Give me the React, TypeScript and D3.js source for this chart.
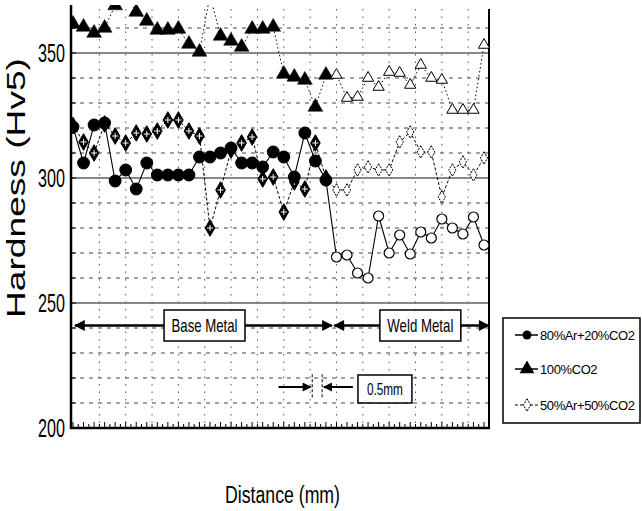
import React, { useEffect, useRef } from 'react';
import * as d3 from 'd3';

// measurement points, mm from start of traverse (0.5 mm pitch)
const distance = [
    0, 0.5, 1, 1.5, 2, 2.5, 3, 3.5, 4, 4.5, 5, 5.5, 6, 6.5, 7, 7.5, 8, 8.5, 9, 9.5,
    10, 10.5, 11, 11.5, 12, 12.5, 13, 13.5, 14, 14.5, 15, 15.5, 16, 16.5, 17, 17.5, 18, 18.5, 19, 19.5,
];
const ar80 = [
    320.4, 306, 321.2, 322, 298.8, 303.2, 295.6, 306, 301.2, 301.2, 301.2, 301.2, 308.4, 308.4, 310, 312,
    306, 306, 304.4, 310.4, 308.4, 300.4, 318, 306.8, 299.2,
    268.4, 269.2, 262, 260, 284.8, 270, 277.2, 269.6, 278.4, 276, 283.6, 280, 277.6, 284.4, 273.2,
];
const co2 = [
    361.6, 360.4, 358, 360, 369, 373, 366.4, 362.8, 359.2, 359.2, 359.6, 353.6, 350.4, 373, 356.8, 354.8,
    352.4, 359.6, 359.6, 360.4, 341.6, 340.4, 339.2, 328.4, 341.2,
    341.2, 332, 332.4, 340, 336.4, 342.4, 342, 337.2, 345.2, 340, 339.2, 327.2, 327.2, 327.2, 353.2,
];
const ar50 = [
    321, 314.4, 310, 321.6, 316.8, 314, 318, 317.6, 318.8, 323.2, 323.2, 318.8, 316.8, 280, 295.2, 311.2,
    314, 316.4, 299.6, 300.4, 286.4, 298.4, 295.6, 314, 300,
    295.2, 295.2, 303.2, 304.4, 303.2, 303.2, 314.4, 318.4, 310.4, 310.4, 292.4, 303.2, 306.4, 301.2, 308,
];
const yTicks = [200, 250, 300, 350];
const seriesNames = ['80%Ar+20%CO2', '100%CO2', '50%Ar+50%CO2'];
const weldStart = 12.5; // first point inside weld metal

const FONT = "'Liberation Sans Narrow', 'Arial Narrow', 'Liberation Sans', sans-serif";

const App: React.FC = () => {
    const ref = useRef<SVGSVGElement | null>(null);

    useEffect(() => {
        if (!ref.current) return;
        const width = 642;
        const height = 511;
        const left = 71, right = 489, top = 5, bottom = 428;

        d3.select(ref.current).selectAll('*').remove();
        const svg = d3.select(ref.current)
            .attr('width', width)
            .attr('height', height)
            .style('position', 'absolute')
            .style('left', '0px')
            .style('top', '0px')
            .style('background', '#fff');

        const x = d3.scaleLinear().domain([0, 19.5]).range([73, 484]);
        const y = d3.scaleLinear().domain([200, 350]).range([bottom, 53]);

        const defs = svg.append('defs');
        defs.append('clipPath').attr('id', 'plotclip')
            .append('rect').attr('x', left).attr('y', top)
            .attr('width', right - left).attr('height', bottom - top);
        defs.append('marker')
            .attr('id', 'arrow')
            .attr('viewBox', '0 0 10 10')
            .attr('refX', 9).attr('refY', 5)
            .attr('markerWidth', 5).attr('markerHeight', 4.5)
            .attr('markerUnits', 'strokeWidth')
            .attr('orient', 'auto-start-reverse')
            .append('path').attr('d', 'M0,0 L10,5 L0,10 Z').attr('fill', '#000');

        // horizontal grid
        const hGrid = d3.range(210, 370, 10);
        svg.append('g').selectAll('line')
            .data(hGrid)
            .enter().append('line')
            .attr('x1', left).attr('x2', right)
            .attr('y1', d => y(d)).attr('y2', d => y(d))
            .attr('stroke', d => (d % 50 === 0 ? '#111' : '#444'))
            .attr('stroke-width', 1)
            .attr('stroke-dasharray', d => (d % 50 === 0 ? null : '4,5'));

        // vertical dotted grid
        svg.append('g').selectAll('line')
            .data(d3.range(1.25, 19.6, 1.25))
            .enter().append('line')
            .attr('x1', d => x(d)).attr('x2', d => x(d))
            .attr('y1', top + 4).attr('y2', bottom)
            .attr('stroke', '#555')
            .attr('stroke-width', 1)
            .attr('stroke-dasharray', '1.5,6');

        // frame
        svg.append('line').attr('x1', left).attr('x2', left).attr('y1', top).attr('y2', bottom + 1)
            .attr('stroke', '#000').attr('stroke-width', 2.5);
        svg.append('line').attr('x1', left - 1).attr('x2', right + 1).attr('y1', bottom).attr('y2', bottom)
            .attr('stroke', '#000').attr('stroke-width', 2.5);
        svg.append('line').attr('x1', right).attr('x2', right).attr('y1', top + 4).attr('y2', bottom + 1)
            .attr('stroke', '#000').attr('stroke-width', 2);

        // bottom minor ticks (inward)
        svg.append('g').selectAll('line')
            .data(d3.range(0, 19.8, 0.25))
            .enter().append('line')
            .attr('x1', d => x(d)).attr('x2', d => x(d))
            .attr('y1', bottom).attr('y2', (d, i) => bottom - (i % 2 === 0 ? 6 : 4))
            .attr('stroke', '#000').attr('stroke-width', 1);

        // left ticks (inward)
        svg.append('g').selectAll('line')
            .data(d3.range(200, 370, 10))
            .enter().append('line')
            .attr('x1', left).attr('x2', left + 5)
            .attr('y1', d => y(d)).attr('y2', d => y(d))
            .attr('stroke', '#000').attr('stroke-width', 1);

        // y tick labels
        svg.append('g').selectAll('text')
            .data(yTicks)
            .enter().append('text')
            .attr('x', 38)
            .attr('y', d => y(d) + 9)
            .attr('textLength', 27)
            .attr('lengthAdjust', 'spacingAndGlyphs')
            .style('font-family', FONT)
            .style('font-size', '25px')
            .style('fill', '#000')
            .text(d => d);

        // axis titles
        svg.append('text')
            .attr('transform', 'translate(25,188) rotate(-90)')
            .attr('text-anchor', 'middle')
            .attr('textLength', 260)
            .attr('lengthAdjust', 'spacingAndGlyphs')
            .style('font-family', "'Liberation Sans', sans-serif")
            .style('font-size', '26px')
            .style('fill', '#000')
            .text('Hardness (Hv5)');

        svg.append('text')
            .attr('x', 225)
            .attr('y', 503)
            .attr('textLength', 115)
            .attr('lengthAdjust', 'spacingAndGlyphs')
            .style('font-family', FONT)
            .style('font-size', '23px')
            .style('fill', '#000')
            .text('Distance (mm)');

        const plot = svg.append('g').attr('clip-path', 'url(#plotclip)');

        const lineGen = (vals: number[]) =>
            d3.line<number>().x((d, i) => x(distance[i])).y(d => y(d))(vals);

        // lines
        plot.append('path').attr('d', lineGen(co2)).attr('fill', 'none')
            .attr('stroke', '#000').attr('stroke-width', 1).attr('stroke-dasharray', '1.5,2.5');
        plot.append('path').attr('d', lineGen(ar50)).attr('fill', 'none')
            .attr('stroke', '#000').attr('stroke-width', 1).attr('stroke-dasharray', '3,2');
        plot.append('path').attr('d', lineGen(ar80)).attr('fill', 'none')
            .attr('stroke', '#000').attr('stroke-width', 1.1);

        const tri = d3.symbol().type(d3.symbolTriangle).size(95)();
        const triSmall = d3.symbol().type(d3.symbolTriangle).size(55)();
        const dia = d3.symbol().type(d3.symbolDiamond).size(80)();
        const diaSmall = d3.symbol().type(d3.symbolDiamond).size(45)();

        // 100%CO2 markers
        plot.append('g').selectAll('path')
            .data(co2)
            .enter().append('path')
            .attr('transform', (d, i) => `translate(${x(distance[i])},${y(d)})`)
            .attr('d', (d, i) => (distance[i] < weldStart ? tri : triSmall))
            .attr('fill', (d, i) => (distance[i] < weldStart ? '#000' : '#fff'))
            .attr('stroke', '#000')
            .attr('stroke-width', (d, i) => (distance[i] < weldStart ? 0.5 : 1));

        // 50%Ar markers
        const g50 = plot.append('g').selectAll('g')
            .data(ar50)
            .enter().append('g')
            .attr('transform', (d, i) => `translate(${x(distance[i])},${y(d)})`);
        g50.append('path')
            .attr('d', (d, i) => (distance[i] < weldStart ? dia : diaSmall))
            .attr('fill', (d, i) => (distance[i] < weldStart ? '#000' : '#fff'))
            .attr('stroke', '#000')
            .attr('stroke-width', 1)
            .attr('stroke-dasharray', (d, i) => (distance[i] < weldStart ? null : '2,1'));
        g50.filter((d, i) => distance[i] < weldStart)
            .append('path')
            .attr('d', 'M-3,0 H3 M0,-3 V3')
            .attr('stroke', '#fff')
            .attr('stroke-width', 1);

        // 80%Ar markers
        plot.append('g').selectAll('circle')
            .data(ar80)
            .enter().append('circle')
            .attr('cx', (d, i) => x(distance[i]))
            .attr('cy', d => y(d))
            .attr('r', (d, i) => (distance[i] < weldStart ? 5.8 : 5))
            .attr('fill', (d, i) => (distance[i] < weldStart ? '#000' : '#fff'))
            .attr('stroke', '#000')
            .attr('stroke-width', 1.2);

        // Base metal / weld metal annotation
        const ann = svg.append('g');
        const arrowY = y(241);
        const arrow = (x1: number, x2: number, yy: number, both: boolean, w = 2.4) =>
            ann.append('line')
                .attr('x1', x(x1)).attr('x2', x(x2)).attr('y1', yy).attr('y2', yy)
                .attr('stroke', '#000').attr('stroke-width', w)
                .attr('marker-end', 'url(#arrow)')
                .attr('marker-start', both ? 'url(#arrow)' : null);
        arrow(0.1, 12.28, arrowY, true);
        arrow(12.4, 19.72, arrowY, true);

        const box = (x1: number, x2: number, v1: number, v2: number, label: string, fs: number, tl: number) => {
            ann.append('rect')
                .attr('x', x(x1)).attr('y', y(v2))
                .attr('width', x(x2) - x(x1)).attr('height', y(v1) - y(v2))
                .attr('fill', '#fff').attr('stroke', '#000').attr('stroke-width', 1.5);
            ann.append('text')
                .attr('x', (x(x1) + x(x2)) / 2)
                .attr('y', (y(v1) + y(v2)) / 2 + fs * 0.36)
                .attr('text-anchor', 'middle')
                .attr('textLength', tl)
                .attr('lengthAdjust', 'spacingAndGlyphs')
                .style('font-family', FONT)
                .style('font-size', `${fs}px`)
                .style('fill', '#000')
                .text(label);
        };
        box(4.32, 8.16, 234.8, 247.2, 'Base Metal', 19, 66);
        box(14.56, 18.4, 234.8, 247.2, 'Weld Metal', 19, 66);

        // 0.5 mm marker
        const mY = y(216.4);
        arrow(9.75, 11.28, mY, false, 2);
        arrow(13.28, 11.9, mY, false, 2);
        [11.35, 11.82].forEach(d => {
            ann.append('line')
                .attr('x1', x(d)).attr('x2', x(d)).attr('y1', y(221.5)).attr('y2', y(212))
                .attr('stroke', '#000').attr('stroke-width', 1).attr('stroke-dasharray', '3,2');
        });
        box(13.52, 16.08, 210, 221.2, '0.5mm', 17, 36);

        // legend
        const lg = svg.append('g');
        lg.append('rect').attr('x', 503).attr('y', 318).attr('width', 137).attr('height', 105)
            .attr('fill', '#fff').attr('stroke', '#000').attr('stroke-width', 1.5);
        const legendY = [335, 369, 405];
        seriesNames.forEach((name, i) => {
            const ly = legendY[i];
            lg.append('line').attr('x1', 515).attr('x2', 538).attr('y1', ly).attr('y2', ly)
                .attr('stroke', '#000').attr('stroke-width', i === 2 ? 1 : 1.5)
                .attr('stroke-dasharray', i === 2 ? '3,2' : null);
            if (i === 0) {
                lg.append('circle').attr('cx', 527).attr('cy', ly).attr('r', 4.5).attr('fill', '#000');
            } else if (i === 1) {
                lg.append('path').attr('d', tri).attr('transform', `translate(527,${ly})`).attr('fill', '#000');
            } else {
                lg.append('path').attr('d', diaSmall).attr('transform', `translate(527,${ly})`)
                    .attr('fill', '#fff').attr('stroke', '#000').attr('stroke-width', 1)
                    .attr('stroke-dasharray', '2,1');
            }
            lg.append('text')
                .attr('x', 540).attr('y', ly + 5)
                .style('font-family', "'Liberation Sans', sans-serif")
                .style('font-size', '13px')
                .style('letter-spacing', '-0.4px')
                .style('fill', '#000')
                .text(name);
        });
    }, []);

    return <svg ref={ref} />;
};

export default App;
